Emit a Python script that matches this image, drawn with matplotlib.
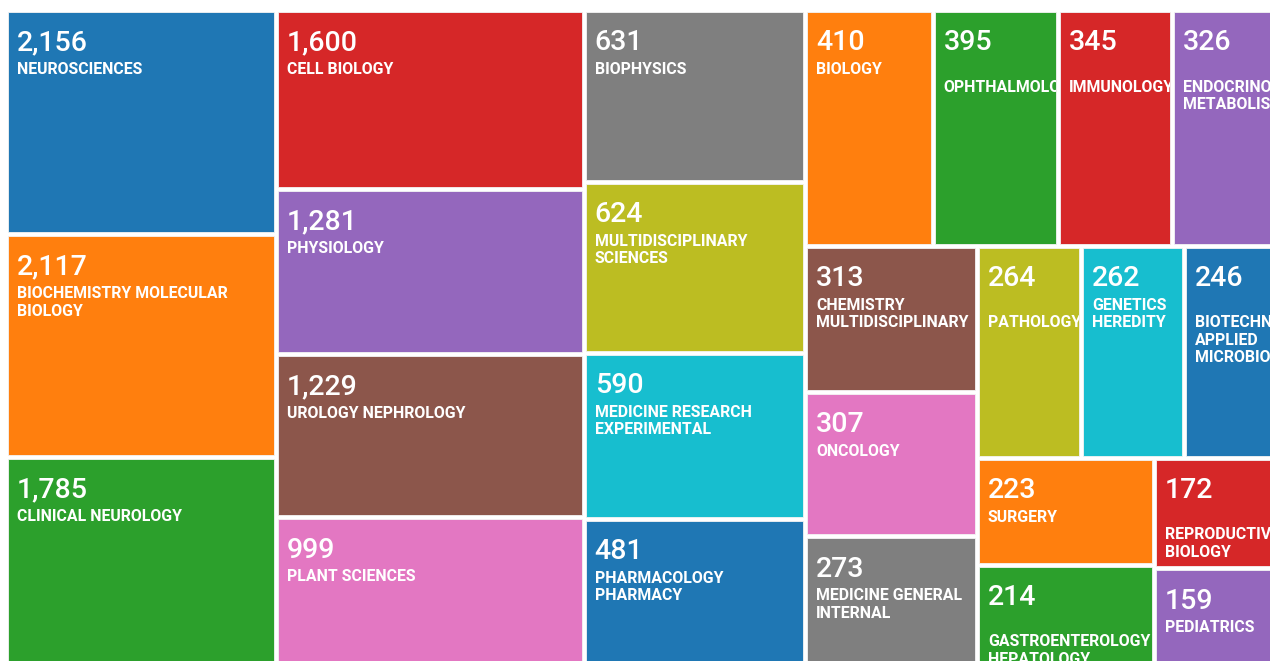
import numpy as np
import matplotlib
matplotlib.use("Agg")
import matplotlib.pyplot as plt
from matplotlib.patches import Rectangle
from matplotlib.transforms import Bbox, TransformedBbox

# ---------------- data ----------------
categories = [
    "NEUROSCIENCES", "BIOCHEMISTRY MOLECULAR BIOLOGY", "CLINICAL NEUROLOGY",
    "CELL BIOLOGY", "PHYSIOLOGY", "UROLOGY NEPHROLOGY", "PLANT SCIENCES",
    "BIOPHYSICS", "MULTIDISCIPLINARY SCIENCES", "MEDICINE RESEARCH EXPERIMENTAL",
    "PHARMACOLOGY PHARMACY", "BIOLOGY", "OPHTHALMOLOGY", "IMMUNOLOGY",
    "ENDOCRINOLOGY METABOLISM", "CHEMISTRY MULTIDISCIPLINARY", "ONCOLOGY",
    "MEDICINE GENERAL INTERNAL", "PATHOLOGY", "GENETICS HEREDITY",
    "BIOTECHNOLOGY APPLIED MICROBIOLOGY", "SURGERY", "GASTROENTEROLOGY HEPATOLOGY",
    "REPRODUCTIVE BIOLOGY", "PEDIATRICS",
]
# label lines as wrapped in the reference (an empty first line when the first word did not fit)
label_lines = [
    ["NEUROSCIENCES"], ["BIOCHEMISTRY MOLECULAR", "BIOLOGY"], ["CLINICAL NEUROLOGY"],
    ["CELL BIOLOGY"], ["PHYSIOLOGY"], ["UROLOGY NEPHROLOGY"], ["PLANT SCIENCES"],
    ["BIOPHYSICS"], ["MULTIDISCIPLINARY", "SCIENCES"], ["MEDICINE RESEARCH", "EXPERIMENTAL"],
    ["PHARMACOLOGY", "PHARMACY"], ["BIOLOGY"], ["", "OPHTHALMOLOGY"], ["", "IMMUNOLOGY"],
    ["", "ENDOCRINOLOGY", "METABOLISM"], ["CHEMISTRY", "MULTIDISCIPLINARY"], ["ONCOLOGY"],
    ["MEDICINE GENERAL", "INTERNAL"], ["", "PATHOLOGY"], ["GENETICS", "HEREDITY"],
    ["", "BIOTECHNOLOGY", "APPLIED", "MICROBIOLOGY"], ["SURGERY"], ["", "GASTROENTEROLOGY", "HEPATOLOGY"],
    ["", "REPRODUCTIVE", "BIOLOGY"], ["PEDIATRICS"],
]
counts = [2156, 2117, 1785, 1600, 1281, 1229, 999, 631, 624, 590, 481, 410, 395,
          345, 326, 313, 307, 273, 264, 262, 246, 223, 214, 172, 159]
palette = ["#1f77b4", "#ff7f0e", "#2ca02c", "#d62728", "#9467bd",
           "#8c564b", "#e377c2", "#7f7f7f", "#bcbd22", "#17becf"]

# ---------------- layout (d3-style squarified treemap) ----------------
PHI = (1 + 5 ** 0.5) / 2
LOG_OFFSET = 4.37          # cell area grows with log(count)
FRAME = (6, 10, 1282, 668)  # x0, y0, x1, y1 in pixel-like units
PAD = 4


def squarify(values, x0, y0, x1, y1, ratio=PHI):
    n = len(values)
    rects = [None] * n
    total = float(sum(values))
    i0 = i1 = 0
    while i0 < n:
        dx, dy = x1 - x0, y1 - y0
        s = values[i1]
        i1 += 1
        mn = mx = s
        alpha = max(dy / dx, dx / dy) / (total * ratio)
        beta = s * s * alpha
        min_ratio = max(mx / beta, beta / mn)
        while i1 < n:
            v = values[i1]
            s += v
            mn, mx = min(mn, v), max(mx, v)
            beta = s * s * alpha
            new_ratio = max(mx / beta, beta / mn)
            if new_ratio > min_ratio:
                s -= v
                break
            min_ratio = new_ratio
            i1 += 1
        if dx < dy:
            yb = y0 + dy * s / total
            xc = x0
            for i in range(i0, i1):
                w = dx * values[i] / s
                rects[i] = (xc, y0, xc + w, yb)
                xc += w
            y0 = yb
        else:
            xb = x0 + dx * s / total
            yc = y0
            for i in range(i0, i1):
                h = dy * values[i] / s
                rects[i] = (x0, yc, xb, yc + h)
                yc += h
            x0 = xb
        total -= s
        i0 = i1
    return rects


weights = list(np.log(np.array(counts, dtype=float)) - LOG_OFFSET)
rects = squarify(weights, *FRAME)

# ---------------- drawing ----------------
W, H = 1270, 661
fig = plt.figure(figsize=(W / 100, H / 100), dpi=100, facecolor="white")
ax = fig.add_axes([0, 0, 1, 1])
ax.set_xlim(0, W)
ax.set_ylim(H, 0)
ax.axis("off")
to_fig = ax.transData + fig.transFigure.inverted()

for i, (r, c, lines) in enumerate(zip(rects, counts, label_lines)):
    x0, y0, x1, y1 = r
    x0 += PAD / 2; y0 += PAD / 2; x1 -= PAD / 2; y1 -= PAD / 2
    color = palette[i % len(palette)]
    ax.add_patch(Rectangle((x0, y0), x1 - x0, y1 - y0, facecolor=color,
                           edgecolor="#f4f4f4", linewidth=0.6))

    # value: clipped with a clip box built from the cell corners
    clip = TransformedBbox(Bbox([[x0, y0], [x1, y1]]), ax.transData)
    t = ax.text(x0 + 9, y0 + 38.5, f"{c:,}", color="white", fontsize=20.5,
                fontfamily="Roboto", fontweight="medium", va="baseline", ha="left",
                clip_on=True)
    t.set_clip_box(clip)

    # labels: drawn inside a per-cell axes that clips them
    (fx0, fy1), (fx1, fy0) = to_fig.transform([(x0, y0), (x1, y1)])
    cax = fig.add_axes([fx0, fy0, fx1 - fx0, fy1 - fy0])
    cax.set_xlim(0, x1 - x0)
    cax.set_ylim(y1 - y0, 0)
    cax.axis("off")
    for k, line in enumerate(lines):
        if not line:
            continue
        cax.text(9, 62 + 17.5 * k, line, color="white", fontsize=11.4,
                 fontfamily="Roboto", fontweight="bold", va="baseline", ha="left",
                 clip_on=True)

fig.savefig("out.png", dpi=100, facecolor="white")
